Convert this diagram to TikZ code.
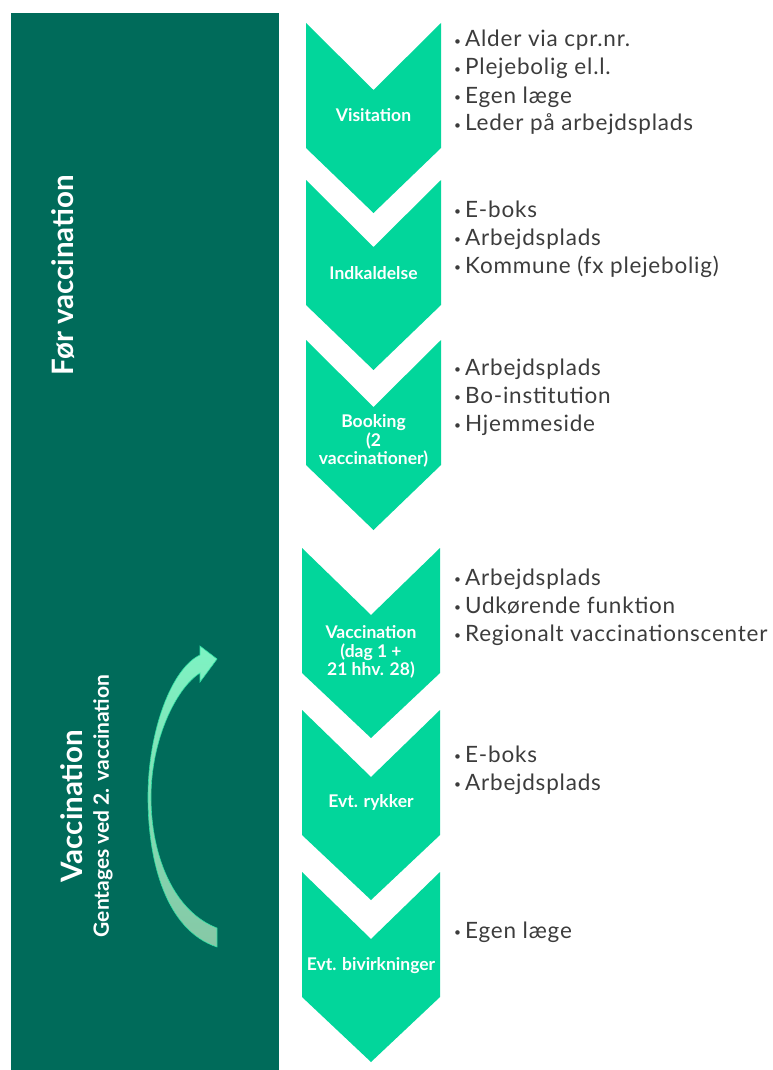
\documentclass[tikz,border=0pt]{standalone}
\usepackage{fontspec}
\setmainfont{Lato}
\newfontfamily\listfont[LetterSpace=3.5]{Lato}
\definecolor{darkgreen}{HTML}{006B5A}
\definecolor{chevgreen}{HTML}{02D69B}
\definecolor{txtgray}{HTML}{3C3C3C}
\definecolor{arrtop}{HTML}{7EF3C3}
\definecolor{arrbot}{HTML}{86C8A6}
\definecolor{arredge}{HTML}{2FE3A6}
\begin{document}
\begin{tikzpicture}[x=1pt,y=-1pt,
  chev/.style={fill=chevgreen},
  clab/.style={text=white,font=\bfseries\fontsize{17.5}{18.5}\selectfont,align=center,inner sep=0pt},
  item/.style={text=txtgray,font=\listfont\fontsize{22.5}{28}\selectfont,anchor=base west,inner sep=0pt},
  vlab/.style={text=white,font=\bfseries\fontsize{29.5}{34}\selectfont,rotate=90,inner sep=0pt},
  vsub/.style={text=white,font=\bfseries\fontsize{21}{24}\selectfont,rotate=90,inner sep=0pt}]
\useasboundingbox (0,0) rectangle (772,1070);
% left panel
\fill[darkgreen] (11,13) rectangle (279,1070);
\node[vlab] (fv) at (63,275) {Før vaccination};
\node[vlab] (vac) at (72,806) {Vaccination};
\node[vsub] (gen) at (103,806) {Gentages ved 2. vaccination};
% curved arrow
\fill[top color=arrtop,bottom color=arrbot,draw=arredge,line width=0.6pt]
  (217,947) .. controls (166,930) and (148,862) .. (148,797)
  .. controls (148,730) and (172,668) .. (200,655)
  -- (200,646) -- (217,659) -- (200,682) -- (200,673)
  .. controls (176,688) and (151,740) .. (151,797)
  .. controls (151,858) and (175,912) .. (217,928) -- cycle;
% chevrons
\foreach \xl/\xr/\yt in {306/441/23, 306/441/180, 306/441/340, 302/440/548, 302/440/710, 302/440/872} {
  \pgfmathsetmacro\xc{(\xl+\xr)/2}
  \fill[chev] (\xl,\yt) -- (\xc,\yt+67) -- (\xr,\yt) -- (\xr,\yt+125) -- (\xc,\yt+190) -- (\xl,\yt+125) -- cycle;
}
\node[clab] (c1) at (373.5,115) {Visitation};
\node[clab] (c2) at (373.5,273) {Indkaldelse};
\node[clab] (c3) at (373.5,441) {Booking\\(2\\vaccinationer)};
\node[clab] (c4) at (371,652) {Vaccination\\(dag 1 +\\21 hhv. 28)};
\node[clab] (c5) at (371,802) {Evt. rykker};
\node[clab] (c6) at (371,966) {Evt. bivirkninger};
% lists
\newcommand\bul{{\fontsize{12}{12}\selectfont\raisebox{1.5pt}{\textbullet}}\hspace{4pt}}
\node[item] (l1a) at (454,47) {\bul Alder via cpr.nr.};
\node[item] (l1b) at (454,75) {\bul Plejebolig el.l.};
\node[item] (l1c) at (454,103) {\bul Egen læge};
\node[item] (l1d) at (454,131) {\bul Leder på arbejdsplads};
\node[item] (l2a) at (454,217) {\bul E-boks};
\node[item] (l2b) at (454,245) {\bul Arbejdsplads};
\node[item] (l2c) at (454,273) {\bul Kommune (fx plejebolig)};
\node[item] (l3a) at (454,375) {\bul Arbejdsplads};
\node[item] (l3b) at (454,403) {\bul Bo-institution};
\node[item] (l3c) at (454,431) {\bul Hjemmeside};
\node[item] (l4a) at (454,585) {\bul Arbejdsplads};
\node[item] (l4b) at (454,613) {\bul Udkørende funktion};
\node[item] (l4c) at (454,641) {\bul Regionalt vaccinationscenter};
\node[item] (l5a) at (454,762) {\bul E-boks};
\node[item] (l5b) at (454,790) {\bul Arbejdsplads};
\node[item] (l6a) at (454,938) {\bul Egen læge};
\end{tikzpicture}
\end{document}
